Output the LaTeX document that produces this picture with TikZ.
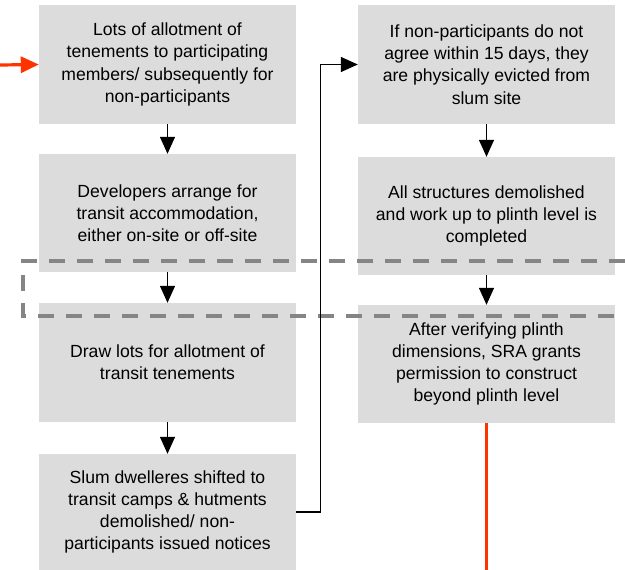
\documentclass[tikz,border=0pt]{standalone}
\usepackage{fontspec}
\setmainfont{Liberation Sans}
\usetikzlibrary{arrows.meta}
\definecolor{boxgray}{HTML}{DCDCDC}
\definecolor{dashgray}{HTML}{858585}
\definecolor{flowred}{HTML}{FF3300}
\begin{document}
\begin{tikzpicture}[x=1pt,y=-1pt,
	stepbox/.style={fill=boxgray,minimum width=257pt,align=center,inner sep=0pt,font=\fontsize{17.6}{22.2}\selectfont},
	flow/.style={-{Triangle[length=17pt,width=15pt]},line width=1.4pt,black},
	redline/.style={line width=3.2pt,flowred}]
	\useasboundingbox (0,0) rectangle (625,570);
	% left column
	\node[stepbox,minimum height=119pt] (lots) at (167.5,64.5) {Lots of allotment of\\tenements to participating\\members/ subsequently for\\non-participants};
	\node[stepbox,minimum height=118pt] (transit) at (167.5,213) {Developers arrange for\\transit accommodation,\\either on-site or off-site};
	\node[stepbox,minimum height=119pt] (draw) at (167.5,362.5) {Draw lots for allotment of\\transit tenements};
	\node[stepbox,minimum height=116pt] (shift) at (167.5,512) {Slum dwelleres shifted to\\transit camps \& hutments\\demolished/ non-\\participants issued notices};
	% right column
	\node[stepbox,minimum height=119pt] (evict) at (486.5,64.5) {If non-participants do not\\agree within 15 days, they\\are physically evicted from\\slum site};
	\node[stepbox,minimum height=118pt] (demol) at (486.5,216) {All structures demolished\\and work up to plinth level is\\completed};
	\node[stepbox,minimum height=118pt] (plinth) at (486.5,364) {After verifying plinth\\dimensions, SRA grants\\permission to construct\\beyond plinth level};
	% dashed bracket
	\draw[dashgray,line width=4pt,dash pattern=on 16pt off 12pt] (625,261) -- (23,261) -- (23,316) -- (625,316);
	% connectors
	\draw[flow] (lots) -- (transit);
	\draw[flow] (transit) -- (draw);
	\draw[flow] (draw) -- (shift);
	\draw[flow] (evict) -- (demol);
	\draw[flow] (demol) -- (plinth);
	\draw[flow] (shift.east) -- ++(24,0) |- (evict.west);
	\coordinate (redin) at (0,65);
	\coordinate (redout) at (486.5,570);
	\draw[redline,-{Triangle[length=18pt,width=16pt]}] (redin) -- (lots.west);
	\draw[redline] (plinth.south) -- (redout);
\end{tikzpicture}
\end{document}
